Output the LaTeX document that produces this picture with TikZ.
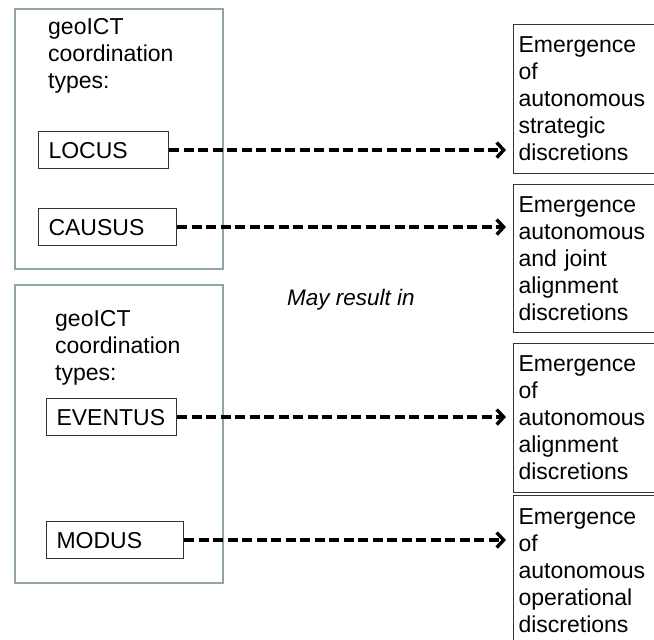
\documentclass[tikz,border=0pt]{standalone}
\usepackage{fontspec}
\setmainfont{Liberation Sans}
\usetikzlibrary{arrows.meta}
\definecolor{groupline}{RGB}{143,163,168}

\begin{document}
\begin{tikzpicture}[x=1pt,y=-1pt,
  every node/.style={font=\fontsize{23}{27}\selectfont},
  group/.style={draw=groupline, line width=2.4pt, anchor=north west, inner sep=0pt},
  grouptext/.style={anchor=north west, inner sep=0pt, align=left},
  typebox/.style={draw=black!80, line width=1.1pt, anchor=north west,
    inner xsep=10pt, inner ysep=0pt, minimum height=37pt,
    text height=16.4pt, text depth=0pt, align=left},
  outcome/.style={draw=black!80, line width=1.1pt, anchor=north west,
    inner xsep=5pt, inner ysep=0pt, minimum width=170pt,
    text width=160pt, align=left},
  leads/.style={line width=3.4pt, dash pattern=on 10pt off 4.5pt,
    -{Straight Barb[length=7pt,width=15pt]}, shorten >=7pt}
]
\useasboundingbox (0,0) rectangle (654,640);
\fill[white] (0,0) rectangle (654,640);

% two groups of coordination types
\node[group, minimum width=208pt, minimum height=260pt] (g1) at (14,8) {};
\node[group, minimum width=208pt, minimum height=298pt] (g2) at (14,284) {};
\node[grouptext] (g1t) at (48,18.6) {geoICT\\coordination\\types:};
\node[grouptext] (g2t) at (55,310.6) {geoICT\\coordination\\types:};

\node[typebox, text width=110pt] (locus)   at (38,131)  {LOCUS};
\node[typebox, text width=118pt] (causus)  at (38,208)  {CAUSUS};
\node[typebox, text width=110pt] (eventus) at (46,398)  {EVENTUS};
\node[typebox, text width=117pt] (modus)   at (46,521)  {MODUS};

% emerging discretions
\node[outcome, minimum height=149pt] (r1) at (513,24)
  {Emergence\\of\\autonomous\\strategic\\discretions};
\node[outcome, minimum height=148pt] (r2) at (513,184)
  {Emergence\\autonomous\\and joint\\alignment\\discretions};
\node[outcome, minimum height=149pt] (r3) at (513,343)
  {Emergence\\of\\autonomous\\alignment\\discretions};
\node[outcome, minimum height=150pt] (r4) at (513,495)
  {Emergence\\of\\autonomous\\operational\\discretions};

\node[font=\fontsize{22.5}{27}\selectfont\itshape] (may) at (351,300) {May result in};

% dashed connectors
\draw[leads] (locus.east)   -- (locus.east -| r1.west);
\draw[leads] (causus.east)  -- (causus.east -| r2.west);
\draw[leads] (eventus.east) -- (eventus.east -| r3.west);
\draw[leads] (modus.east)   -- (modus.east -| r4.west);
\end{tikzpicture}
\end{document}
